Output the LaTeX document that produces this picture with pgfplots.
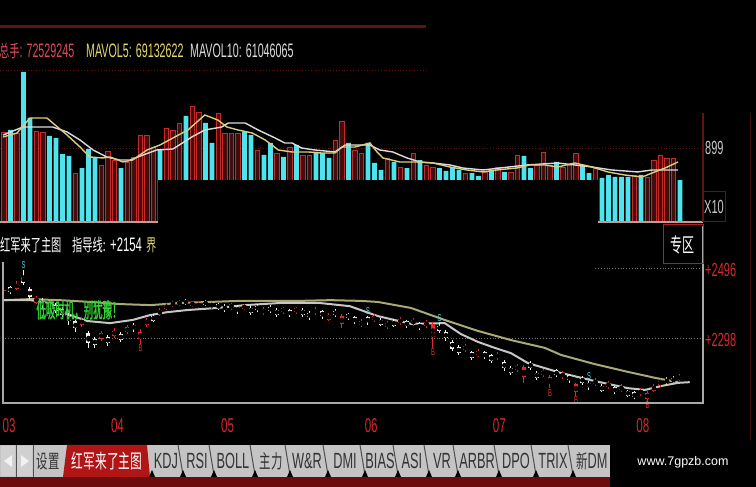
\documentclass[border=0pt]{standalone}
\usepackage{pgfplots}
\pgfplotsset{compat=1.18}
\usepackage{pgfplotstable}
\usepackage{fontspec}
\setmainfont{Liberation Sans}[FakeStretch=0.58]
\newfontfamily\hdr{Liberation Sans}[FakeStretch=0.55]
\newfontfamily\cjk{Noto Sans CJK SC}[FakeStretch=0.6]
\newfontfamily\cjknarrow{Noto Sans CJK SC}[FakeStretch=0.45, FakeBold=1.2]
\newfontfamily\web{Liberation Sans}
\newcommand\fs[1]{\fontsize{#1}{#1}\selectfont}

\definecolor{volcyan}{HTML}{4FE3EE}
\definecolor{volred}{HTML}{C42C2C}
\definecolor{volredfill}{HTML}{460B0B}
\definecolor{basepink}{HTML}{C49A9A}
\definecolor{ma5}{HTML}{D9CD82}
\definecolor{ma10}{HTML}{DCDCDC}
\definecolor{maolive}{HTML}{A9A877}
\definecolor{magray}{HTML}{C6C6C6}
\definecolor{upred}{HTML}{E42A2A}
\definecolor{downwhite}{HTML}{F2F2F2}
\definecolor{candyel}{HTML}{F0D048}
\definecolor{hdrred}{HTML}{E0485C}
\definecolor{hdryel}{HTML}{E2D86C}
\definecolor{lblred}{HTML}{D42A2A}
\definecolor{lblgray}{HTML}{C8C8C8}
\definecolor{darkframe}{HTML}{5C1414}
\definecolor{framegray}{HTML}{A8A8A8}
\definecolor{tabgray}{HTML}{C4C4C4}
\definecolor{tabtext}{HTML}{333333}
\definecolor{tabsep}{HTML}{505050}
\definecolor{tabred}{HTML}{B01616}
\definecolor{strip}{HTML}{6C0C0C}
\definecolor{signalcyan}{HTML}{52D8E8}
\definecolor{slogan}{HTML}{34D234}

% daily volume, in units of the right-hand scale
\pgfplotstableread{
i v
0 1094
2 1081
5 1106
6 1094
11 595
15 693
16 863
17 753
19 729
20 790
21 1057
22 1057
23 911
25 1142
26 1118
27 1203
29 1409
30 1337
33 1324
34 1081
35 1081
36 1081
39 875
42 838
44 911
46 814
47 814
51 996
52 1227
54 875
55 838
59 778
61 668
63 838
65 693
66 668
71 595
74 608
76 668
78 608
79 814
82 693
83 851
84 693
86 668
87 693
88 838
91 656
97 571
99 547
100 753
101 814
102 778
103 778
}\volup

\pgfplotstableread{
i v
1 1118
3 1823
4 1264
7 1045
8 1021
9 826
10 802
12 656
13 887
14 778
18 656
24 875
28 1288
31 1203
32 960
37 1094
38 1057
40 814
41 960
43 790
45 936
48 851
49 838
50 778
53 960
56 960
57 717
58 632
60 729
62 656
64 753
67 656
68 620
69 668
70 632
72 595
73 559
75 632
77 608
80 802
81 656
85 729
89 693
90 595
92 535
93 571
94 547
95 547
96 547
98 571
104 510
}\voldown

% daily candles: open close high low, t = 0 up, 1 down, 2 signal
\pgfplotstableread{
i o c h l t
0 2432 2446 2452 2428 0
1 2441 2427 2446 2422 1
2 2438 2452 2458 2434 0
3 2470 2454 2490 2448 1
4 2436 2414 2442 2408 1
5 2398 2412 2418 2393 0
6 2404 2390 2410 2384 1
7 2385 2397 2402 2380 0
8 2391 2375 2396 2368 1
9 2379 2363 2385 2356 1
10 2363 2345 2368 2336 1
11 2345 2325 2350 2316 1
12 2336 2350 2356 2330 0
13 2312 2284 2318 2270 1
14 2296 2278 2302 2270 1
15 2296 2312 2318 2290 0
16 2300 2284 2306 2276 1
17 2305 2319 2325 2298 0
18 2309 2293 2314 2286 1
19 2314 2328 2334 2308 0
20 2336 2322 2341 2315 1
21 2296 2316 2322 2282 0
22 2336 2350 2355 2330 0
23 2361 2347 2366 2342 1
24 2365 2377 2382 2360 0
25 2380 2392 2397 2376 0
26 2389 2399 2404 2385 0
27 2392 2402 2406 2388 0
28 2405 2395 2409 2390 1
29 2389 2399 2403 2385 0
30 2386 2396 2400 2382 0
31 2402 2392 2406 2388 1
32 2386 2396 2400 2381 0
33 2394 2382 2398 2377 1
34 2389 2377 2393 2372 1
35 2383 2393 2397 2378 0
36 2387 2373 2391 2366 1
37 2381 2391 2395 2376 0
38 2384 2370 2388 2364 1
39 2389 2377 2393 2372 1
40 2368 2380 2385 2363 0
41 2386 2374 2390 2369 1
42 2378 2364 2382 2358 1
43 2371 2383 2387 2366 0
44 2376 2362 2380 2356 1
45 2371 2383 2387 2366 0
46 2378 2364 2382 2358 1
47 2370 2356 2374 2350 1
48 2368 2380 2385 2363 0
49 2373 2359 2377 2353 1
50 2350 2364 2369 2345 0
51 2375 2363 2379 2357 1
52 2338 2360 2366 2326 0
53 2366 2354 2370 2349 1
54 2356 2342 2360 2337 1
55 2334 2346 2351 2329 0
56 2356 2342 2360 2336 1
57 2348 2360 2365 2343 0
58 2350 2336 2354 2331 1
59 2329 2341 2346 2324 0
60 2347 2333 2351 2328 1
61 2340 2352 2357 2335 0
62 2345 2331 2349 2326 1
63 2337 2349 2354 2332 0
64 2339 2325 2343 2320 1
65 2332 2344 2349 2327 0
66 2300 2338 2344 2270 0
67 2333 2319 2340 2312 1
68 2315 2297 2320 2290 1
69 2288 2268 2293 2262 1
70 2272 2256 2277 2250 1
71 2264 2276 2281 2258 0
72 2258 2242 2262 2236 1
73 2249 2261 2266 2244 0
74 2257 2243 2261 2238 1
75 2249 2233 2253 2227 1
76 2241 2253 2258 2236 0
77 2230 2212 2235 2205 1
78 2214 2200 2218 2194 1
79 2207 2219 2224 2202 0
80 2188 2216 2222 2170 0
81 2228 2214 2232 2208 1
82 2200 2186 2204 2180 1
83 2193 2205 2210 2188 0
84 2170 2188 2193 2156 0
85 2206 2192 2210 2187 1
86 2187 2199 2204 2182 0
87 2192 2178 2196 2172 1
88 2145 2167 2172 2135 0
89 2186 2172 2190 2166 1
90 2172 2158 2176 2152 1
91 2167 2179 2184 2162 0
92 2163 2149 2167 2144 1
93 2159 2171 2176 2154 0
94 2158 2144 2162 2139 1
95 2150 2162 2167 2145 0
96 2149 2135 2152 2130 1
97 2144 2130 2147 2124 1
98 2139 2151 2156 2134 0
99 2126 2142 2148 2118 0
100 2149 2163 2168 2144 0
101 2165 2177 2182 2160 0
102 2170 2182 2187 2166 2
103 2173 2185 2190 2169 2
104 2179 2191 2196 2175 0
}\candles

\pgfplotsset{
  wick/.style={only marks, mark=none, error bars/.cd, y dir=both, y explicit,
    error mark=none, error bar style={#1, line width=1pt}, /pgfplots/.cd},
  body/.style={only marks, mark=none, error bars/.cd, y dir=both, y explicit,
    error mark=none, error bar style={#1, line width=4pt}, /pgfplots/.cd},
}

\begin{document}
\begin{tikzpicture}[x=1pt,y=1pt]
\fill[black] (0,0) rectangle (756,487);

% header rules
\draw[darkframe, line width=3pt] (0,460) -- (426,460);
\draw[darkframe, line width=0.8pt, dotted] (0,417) -- (426,417);

% header readout
\node[anchor=base west, inner sep=0, text=hdrred, font=\hdr\fs{19.5}] at (-1,429) {{\cjk\fs{17}总手}: 72529245};
\node[anchor=base west, inner sep=0, text=hdryel, font=\hdr\fs{19.5}] at (86,429) {MAVOL5: 69132622};
\node[anchor=base west, inner sep=0, text=ma10, font=\hdr\fs{19.5}] at (190,429) {MAVOL10: 61046065};

% ---------------- volume panel ----------------
\begin{axis}[
  at={(0pt,265pt)}, anchor=south west,
  scale only axis, width=703pt, height=160pt,
  xmin=-0.615, xmax=107.54, ymin=0, ymax=1944,
  clip=false,
  axis line style={draw=none},
  major tick length=0pt,
  xtick=\empty,
  ytick={899}, yticklabels={899},
  yticklabel pos=right,
  yticklabel style={font=\fs{19}, text=lblgray, inner sep=2pt},
]
\draw[darkframe, line width=0.8pt, dotted] (axis cs:-0.615,899) -- (axis cs:107.54,899);
\addplot[ybar, bar width=4.8pt, bar shift=0pt, fill=volcyan, draw=none] table[x=i, y=v] {\voldown};
\addplot[ybar, bar width=4.2pt, bar shift=0pt, fill=volredfill, draw=volred, line width=0.9pt] table[x=i, y=v] {\volup};
% panel overlap hides the lower middle part of the bars
\addplot[fill=black, draw=none] coordinates {(23.7,-40) (23.7,510) (91.45,510) (91.45,-40)} -- cycle;
\addplot[basepink, line width=1.6pt] coordinates {(-0.615,0) (23.7,0)};
\addplot[basepink, line width=1.6pt] coordinates {(91.45,0) (107.54,0)};
% MAVOL10
\addplot[ma10, line width=1.4pt] coordinates {
(-0.15,1057) (2.9,1154) (7.5,1154) (9.7,1094) (11.7,996) (13.7,875) (15.8,790)
(17.8,753) (19.4,753) (21.4,814) (23.5,875) (26,887) (28.9,1033) (30.9,1118)
(33.5,1154) (34.5,1203) (37.1,1203) (39.1,1118) (41.7,1021) (43.2,960) (44.3,960)
(45.8,899) (47.8,875) (50.9,851) (52.5,936) (54,936) (56.3,936) (57.8,875)
(59.8,851) (62,778) (64,729) (66,717) (68.6,693) (70.6,656) (73.7,632) (76.3,656)
(80.5,693) (85.2,717) (90.5,668) (93.5,632) (97.5,608) (99.7,632) (103.7,632)};
% MAVOL5
\addplot[ma5, line width=1.4pt] coordinates {
(-0.15,1033) (2,1081) (4,1264) (6.6,1264) (7.5,1203) (9.7,1057) (11.7,911)
(13.2,790) (15.2,778) (16.3,790) (18.3,729) (19.8,753) (22,875) (24,936) (26,1021)
(28.3,1118) (30.9,1300) (32.9,1239) (34.3,1154) (36,1118) (38.2,1081) (40.2,996)
(42.2,875) (44.3,851) (46.8,851) (48.9,838) (50.9,838) (52,911) (54,911) (56.3,960)
(57.4,851) (58.3,778) (60.9,729) (63.5,729) (66,717) (68.6,668) (71.2,632)
(73.7,608) (75.8,632) (78.9,656) (80.9,693) (83.2,693) (85.2,668) (87.8,717)
(90.5,668) (92.9,608) (95.5,571) (98.2,547) (99.7,595) (101.7,656) (103.7,729)};
\end{axis}

% volume panel frame and unit box
\draw[darkframe, line width=1.2pt] (703,374) -- (703,265);
\draw[darkframe!70!black, line width=1pt] (750,374) -- (750,47);
\node[draw=darkframe, line width=1pt, minimum width=22pt, minimum height=30pt, inner sep=0, text=lblgray, font=\fs{19}] at (714,280) {X10};

% indicator title
\node[anchor=base west, inner sep=0, text=white, font=\cjk\fs{17}] at (0,235) {红军来了主图};
\node[anchor=base west, inner sep=0, text=white, font=\cjk\fs{17}] at (72,235) {指导线:};
\node[anchor=base west, inner sep=0, text=white, font=\fs{19.5}] at (110,235) {+2154};
\node[anchor=base west, inner sep=0, text=hdryel, font=\cjk\fs{17}] at (146,235) {界};

% ---------------- price panel ----------------
\begin{axis}[
  at={(0pt,84pt)}, anchor=south west,
  scale only axis, width=703pt, height=141pt,
  xmin=-0.615, xmax=107.54, ymin=2114, ymax=2513,
  axis line style={draw=none},
  major tick length=0pt,
  xtick={0.77,17.46,34.4,56.5,76.2,98.3},
  xticklabels={03,04,05,06,07,08},
  xticklabel style={font=\fs{20}, text=lblred, anchor=north, inner sep=0pt, yshift=-15pt},
  ytick={2298,2496}, yticklabels={+2298,+2496},
  yticklabel pos=right,
  yticklabel style={font=\fs{19}, text=lblred, inner sep=2pt, yshift=-2pt},
]
\draw[framegray!70!black, line width=0.8pt, dotted] (axis cs:-0.2,2298) -- (axis cs:107.54,2298);
\draw[framegray!70!black, line width=0.8pt, dotted] (axis cs:91,2496) -- (axis cs:107.54,2496);
% long moving average
\addplot[maolive, line width=2pt] coordinates {
(0,2405) (4,2408) (8.6,2405) (13.2,2400) (17.8,2394) (22.5,2391) (27.1,2397)
(31.7,2400) (36.3,2403) (40.9,2403) (45.5,2403) (50.2,2405) (54.8,2403) (57.5,2400)
(62.6,2383) (67.8,2349) (72.9,2318) (78,2292) (83.2,2270) (85.7,2250) (90.9,2224)
(96,2202) (100.2,2185) (103.7,2173)};
% guide line
\addplot[magray, line width=2pt] coordinates {
(0,2405) (4,2405) (7.1,2397) (9.7,2366) (12.8,2346) (16.3,2340) (19.8,2349)
(22.5,2363) (25.1,2371) (28.2,2377) (32.8,2383) (37.1,2391) (42.5,2397) (48.6,2397)
(53.2,2388) (57.5,2360) (62.6,2338) (67.8,2340) (70.3,2309) (72.9,2287) (75.5,2270)
(78,2255) (80.6,2227) (85.7,2199) (90.9,2176) (96,2156) (98.6,2151) (101.1,2162)
(103.7,2171) (105.5,2173)};
% candles
\addplot[restrict expr to domain={\thisrow{t}}{0:0}, wick=upred] table[x=i, y expr={(\thisrow{h}+\thisrow{l})/2}, y error expr={(\thisrow{h}-\thisrow{l})/2}] {\candles};
\addplot[restrict expr to domain={\thisrow{t}}{0:0}, body=upred] table[x=i, y expr={(\thisrow{o}+\thisrow{c})/2}, y error expr={abs(\thisrow{c}-\thisrow{o})/2}] {\candles};
\addplot[restrict expr to domain={\thisrow{t}}{1:1}, wick=downwhite] table[x=i, y expr={(\thisrow{h}+\thisrow{l})/2}, y error expr={(\thisrow{h}-\thisrow{l})/2}] {\candles};
\addplot[restrict expr to domain={\thisrow{t}}{1:1}, body=downwhite] table[x=i, y expr={(\thisrow{o}+\thisrow{c})/2}, y error expr={abs(\thisrow{c}-\thisrow{o})/2}] {\candles};
\addplot[restrict expr to domain={\thisrow{t}}{2:2}, wick=candyel] table[x=i, y expr={(\thisrow{h}+\thisrow{l})/2}, y error expr={(\thisrow{h}-\thisrow{l})/2}] {\candles};
\addplot[restrict expr to domain={\thisrow{t}}{2:2}, body=candyel] table[x=i, y expr={(\thisrow{o}+\thisrow{c})/2}, y error expr={abs(\thisrow{c}-\thisrow{o})/2}] {\candles};
% trade signals
\addplot[only marks, mark=none, nodes near coords={S},
  every node near coord/.style={font=\fs{10}, text=signalcyan, anchor=south, inner sep=1pt}]
  coordinates {(3,2490) (56,2360) (67,2340) (90,2176)};
\addplot[only marks, mark=none, nodes near coords={B},
  every node near coord/.style={font=\fs{10}, text=upred, anchor=north, inner sep=1pt}]
  coordinates {(21,2282) (66,2270) (84,2156) (88,2135) (99,2122)};
\end{axis}

\node[text=slogan, font=\cjknarrow\fs{21}, inner sep=0] at (79,177) {低吸时机，别犹豫！};

% price panel frame
\draw[framegray, line width=1.5pt] (3,225) -- (3,84) -- (703,84) -- (703,261);
\draw[lblred!80!black, line width=1pt] (663,223) rectangle (703,262);
\node[text=white, font=\cjk\fs{20}, inner sep=0] at (682,242) {专区};

% ---------------- tab bar ----------------
\fill[strip] (0,0) rectangle (610,10);
\fill[tabgray] (0,10) rectangle (610,42);
\fill[tabgray!80!white] (1,11) rectangle (15,41);
\fill[tabgray!80!white] (17,11) rectangle (32,41);
\draw[tabsep, line width=1pt] (16,10) -- (16,42);
\draw[tabsep, line width=1pt] (33,10) -- (33,42);
\fill[white!90!gray] (4,26) -- (12,32) -- (12,20) -- cycle;
\fill[white!90!gray] (21,20) -- (21,32) -- (29,26) -- cycle;
\node[text=tabtext, font=\cjk\fs{19}, inner sep=0] at (48,26) {设置};
\fill[tabred] (63,10) -- (150,10) -- (147,42) -- (67,42) -- cycle;
\node[text=white, font=\cjk\fs{19.5}, inner sep=0] at (107,26) {红军来了主图};
\foreach \x in {181,212,253,288,326,363,396,427,456,497,534,571} {
  \draw[tabsep, line width=1pt] (\x-3,42) -- (\x+2,12);
  \fill[black] (\x-1,10) -- (\x+5,10) -- (\x+2,17) -- cycle;
}
\fill[black] (149,10) -- (155,10) -- (152,17) -- cycle;
\foreach \x/\t in {166/KDJ,197/RSI,233/BOLL,307/W\&R,345/DMI,380/BIAS,412/ASI,442/VR,477/ARBR,516/DPO,553/TRIX} {
  \node[text=tabtext, font=\fs{22}, inner sep=0] at (\x,26) {\t};
}
\node[text=tabtext, font=\cjk\fs{19}, inner sep=0] at (271,26) {主力};
\begin{scope}
\clip (0,10) rectangle (610,42);
\node[anchor=west, text=tabtext, inner sep=0] at (576,26) {{\cjk\fs{19}新}{\fs{22}DM}};
\end{scope}

\node[text=white, font=\web\fs{12.5}, inner sep=0] at (683,25) {www.7gpzb.com};

\pgfresetboundingbox
\path[use as bounding box] (0,0) rectangle (756,487);
\end{tikzpicture}
\end{document}
